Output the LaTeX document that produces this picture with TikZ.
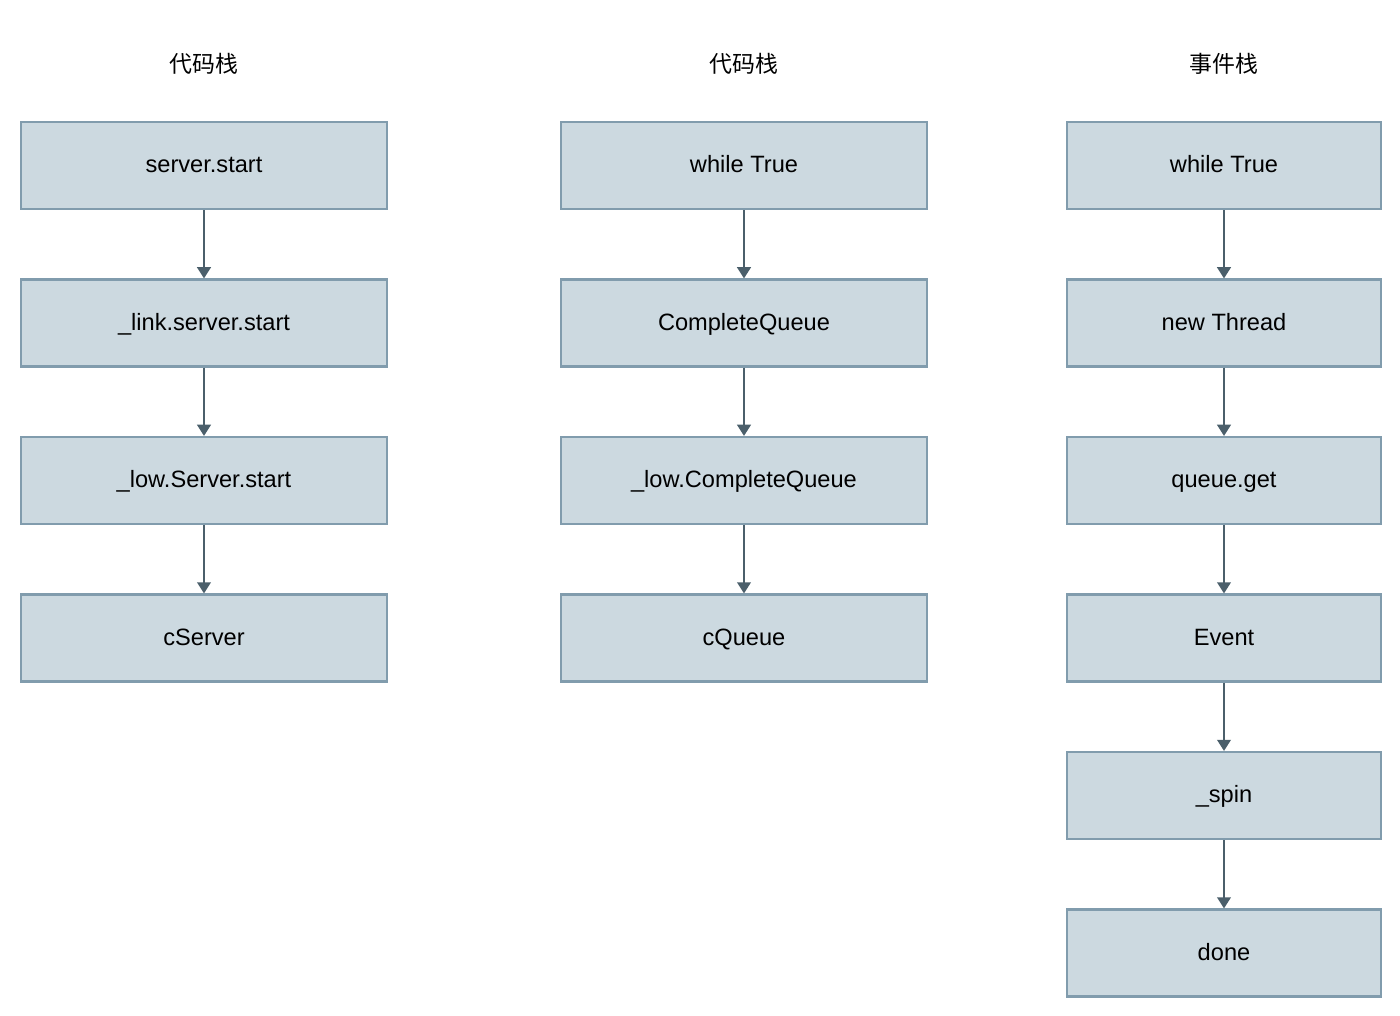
\documentclass[tikz,border=0pt]{standalone}
\usepackage{fontspec}
\setmainfont{Liberation Sans}
\newfontfamily\cjk{Noto Sans CJK SC}
\usetikzlibrary{positioning,arrows.meta}

\definecolor{boxfill}{HTML}{CCD9E0}
\definecolor{boxline}{HTML}{819CAD}
\definecolor{arrowline}{HTML}{4B5F6B}

\tikzstyle{frame} = [rectangle, minimum width=9.15cm, minimum height=2.175cm, text centered, text height=1.1em, text depth=0.05em, fill=boxfill, draw=boxline, line width=1.5pt, font=\fontsize{16.8}{20}\selectfont, node distance=3.9375cm]
\tikzstyle{narrow} = [frame, minimum width=7.85cm]
\tikzstyle{title} = [font=\cjk\fontsize{16.3}{20}\selectfont]
\tikzstyle{arrow} = [line width=1.5pt, draw=arrowline, -{Triangle[width=0.34cm,length=0.28cm,fill=arrowline]}]

\begin{document}
\begin{tikzpicture}
        \useasboundingbox (0,0) rectangle (35,-25.4);

            % left column
            \node (t1) [title] at (5.1,-1.6) {代码栈};
            \node (a1) [frame] at (5.1,-4.1375) {server.start};
            \node (a2) [frame, below of=a1] {\_link.server.start};
            \node (a3) [frame, below of=a2] {\_low.Server.start};
            \node (a4) [frame, below of=a3] {cServer};

            % middle column
            \node (t2) [title] at (18.6,-1.6) {代码栈};
            \node (b1) [frame] at (18.6,-4.1375) {while True};
            \node (b2) [frame, below of=b1] {CompleteQueue};
            \node (b3) [frame, below of=b2] {\_low.CompleteQueue};
            \node (b4) [frame, below of=b3] {cQueue};

            % right column
            \node (t3) [title] at (30.6,-1.6) {事件栈};
            \node (c1) [narrow] at (30.6,-4.1375) {while True};
            \node (c2) [narrow, below of=c1] {new Thread};
            \node (c3) [narrow, below of=c2] {queue.get};
            \node (c4) [narrow, below of=c3] {Event};
            \node (c5) [narrow, below of=c4] {\_spin};
            \node (c6) [narrow, below of=c5] {done};

            \draw [arrow] (a1) -- (a2);
            \draw [arrow] (a2) -- (a3);
            \draw [arrow] (a3) -- (a4);

            \draw [arrow] (b1) -- (b2);
            \draw [arrow] (b2) -- (b3);
            \draw [arrow] (b3) -- (b4);

            \draw [arrow] (c1) -- (c2);
            \draw [arrow] (c2) -- (c3);
            \draw [arrow] (c3) -- (c4);
            \draw [arrow] (c4) -- (c5);
            \draw [arrow] (c5) -- (c6);

    \end{tikzpicture}
\end{document}
